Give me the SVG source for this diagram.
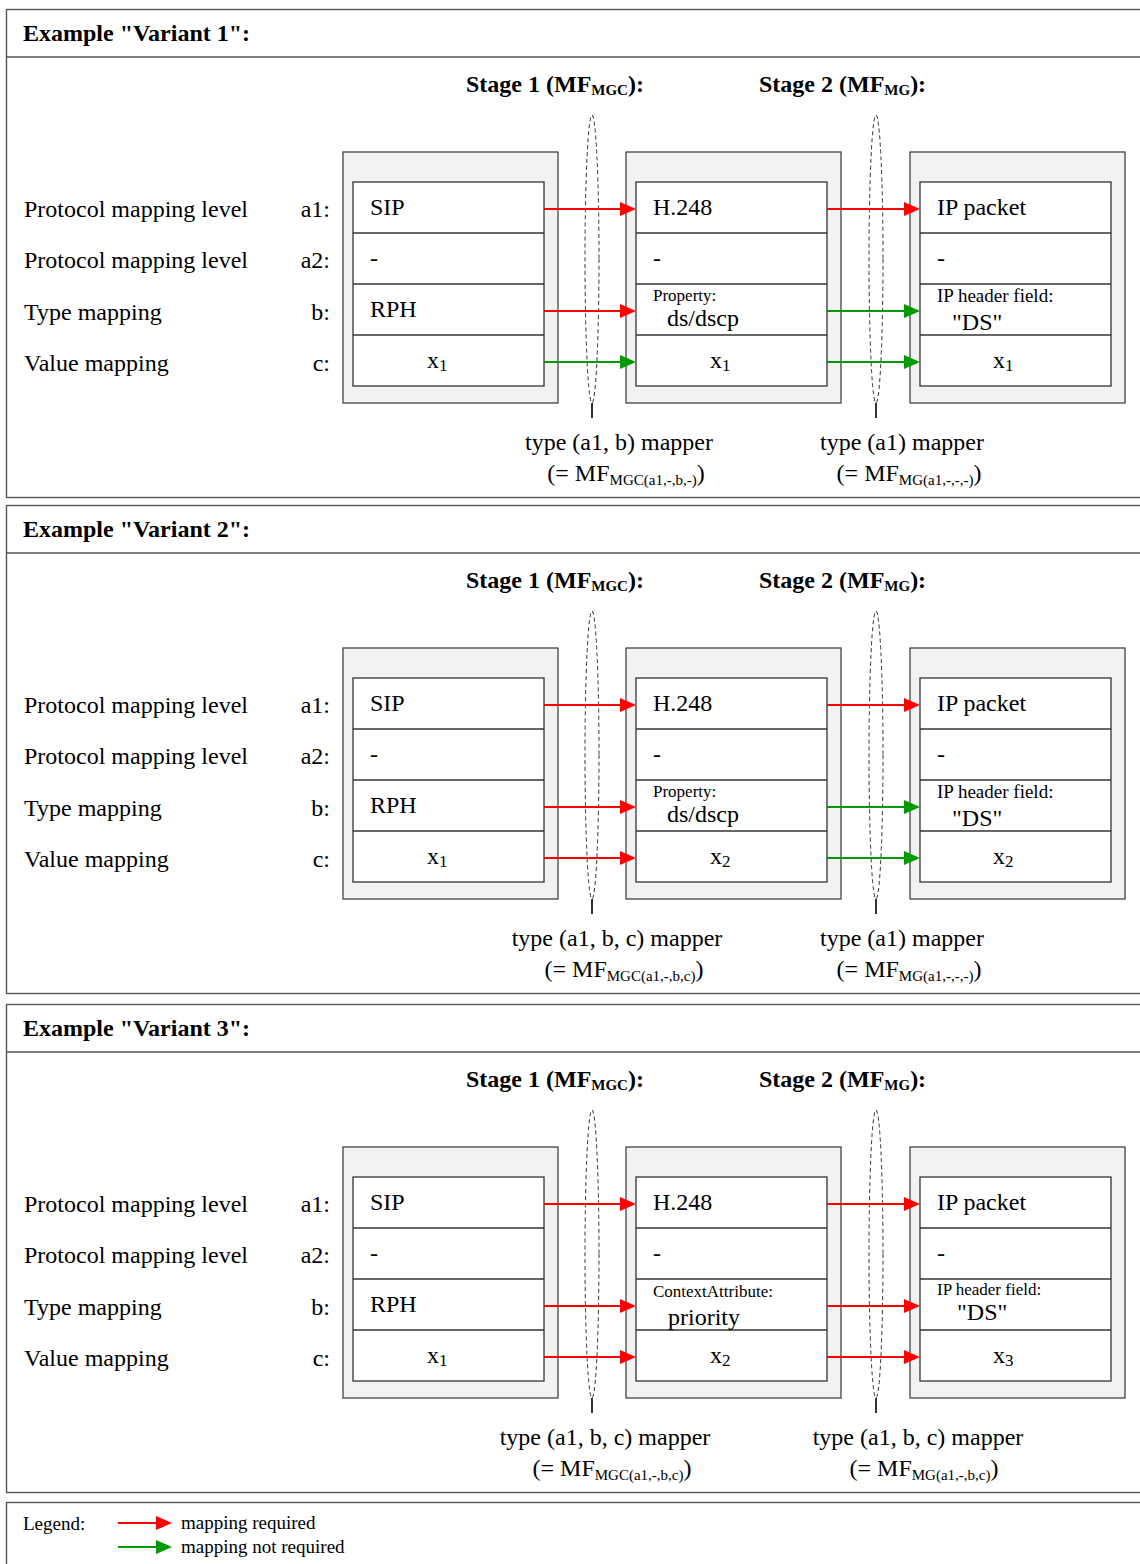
<svg xmlns="http://www.w3.org/2000/svg" width="1140" height="1564" viewBox="0 0 1140 1564">
<style>
.frame{fill:#fff;stroke:#555;stroke-width:1.4}
.div{stroke:#555;stroke-width:1.4}
.outer{fill:#f2f2f2;stroke:#444;stroke-width:1.3}
.inner{fill:#fff;stroke:#333;stroke-width:1.3}
.rl{stroke:#333;stroke-width:1.3}
text{font-family:"Liberation Serif","Times New Roman",serif;font-size:24px;fill:#000}
.b{font-weight:bold}
.sb{font-size:15px}
.sx{font-size:17px}
.sm{font-size:17px}
.ell{fill:none;stroke:#333;stroke-width:1;stroke-dasharray:4 3}
.stem{stroke:#000;stroke-width:1.6}
.red{stroke:#ff0000;stroke-width:2;fill:none;marker-end:url(#ar)}
.grn{stroke:#009900;stroke-width:2;fill:none;marker-end:url(#ag)}
.lg{font-size:19px}
</style>
<defs>
<marker id="ar" markerUnits="userSpaceOnUse" markerWidth="16" markerHeight="14" refX="10" refY="7" orient="auto"><path d="M0,0 L16,7 L0,14 z" fill="#ff0000"/></marker>
<marker id="ag" markerUnits="userSpaceOnUse" markerWidth="16" markerHeight="14" refX="10" refY="7" orient="auto"><path d="M0,0 L16,7 L0,14 z" fill="#009900"/></marker>
<g id="boxframe">
<rect class="outer" x="0" y="0" width="215" height="251"/>
<rect class="inner" x="10" y="30" width="191" height="204"/>
<line class="rl" x1="10" y1="81" x2="201" y2="81"/>
<line class="rl" x1="10" y1="132" x2="201" y2="132"/>
<line class="rl" x1="10" y1="183" x2="201" y2="183"/>
</g>
<g id="rowlabels">
<text x="24" y="217">Protocol mapping level</text>
<text x="330" y="217" text-anchor="end">a1:</text>
<text x="24" y="268">Protocol mapping level</text>
<text x="330" y="268" text-anchor="end">a2:</text>
<text x="24" y="320">Type mapping</text>
<text x="330" y="320" text-anchor="end">b:</text>
<text x="24" y="371">Value mapping</text>
<text x="330" y="371" text-anchor="end">c:</text>
</g>
<g id="stages">
<text class="b" x="466" y="92">Stage 1 (MF<tspan class="sb" dy="3">MGC</tspan><tspan dy="-3">):</tspan></text>
<text class="b" x="759" y="92">Stage 2 (MF<tspan class="sb" dy="3">MG</tspan><tspan dy="-3">):</tspan></text>
</g>
<g id="ellipses">
<ellipse class="ell" cx="592" cy="259" rx="7" ry="144"/>
<line class="stem" x1="592" y1="403" x2="592" y2="418"/>
<ellipse class="ell" cx="876" cy="259" rx="7" ry="144"/>
<line class="stem" x1="876" y1="403" x2="876" y2="418"/>
</g>
</defs>

<!-- Panel 1 -->
<g id="variant1">
<rect class="frame" x="6.5" y="9.5" width="1140" height="488"/>
<line class="div" x1="6.5" y1="57" x2="1146" y2="57"/>
<text class="b" x="23" y="41">Example "Variant 1":</text>
<use href="#stages"/>
<use href="#rowlabels"/>
<g id="v1-sip"><use href="#boxframe" x="343" y="152"/>
<text x="370" y="215">SIP</text><text x="370" y="266">-</text><text x="370" y="317">RPH</text>
<text x="427" y="368">x<tspan class="sx" dy="3">1</tspan></text></g>
<g id="v1-h248"><use href="#boxframe" x="626" y="152"/>
<text x="653" y="215">H.248</text><text x="653" y="266">-</text>
<text class="sm" x="653" y="301">Property:</text><text x="667" y="326">ds/dscp</text>
<text x="710" y="368">x<tspan class="sx" dy="3">1</tspan></text></g>
<g id="v1-ip"><use href="#boxframe" x="910" y="152"/>
<text x="937" y="215">IP packet</text><text x="937" y="266">-</text>
<text x="937" y="302" style="font-size:19px">IP header field:</text><text x="952" y="330">"DS"</text>
<text x="993" y="368">x<tspan class="sx" dy="3">1</tspan></text></g>
<g id="v1-mapper1"><use href="#ellipses"/>
<text x="619" y="450" text-anchor="middle">type (a1, b) mapper</text>
<text x="626" y="481" text-anchor="middle">(= MF<tspan class="sb" dy="4">MGC(a1,-,b,-)</tspan><tspan dy="-4">)</tspan></text></g>
<g id="v1-mapper2">
<text x="902" y="450" text-anchor="middle">type (a1) mapper</text>
<text x="909" y="481" text-anchor="middle">(= MF<tspan class="sb" dy="4">MG(a1,-,-,-)</tspan><tspan dy="-4">)</tspan></text></g>
</g>

<!-- Panel 2 -->
<g id="variant2" transform="translate(0,496)">
<rect class="frame" x="6.5" y="9.5" width="1140" height="488"/>
<line class="div" x1="6.5" y1="57" x2="1146" y2="57"/>
<text class="b" x="23" y="41">Example "Variant 2":</text>
<use href="#stages"/>
<use href="#rowlabels"/>
<g id="v2-sip"><use href="#boxframe" x="343" y="152"/>
<text x="370" y="215">SIP</text><text x="370" y="266">-</text><text x="370" y="317">RPH</text>
<text x="427" y="368">x<tspan class="sx" dy="3">1</tspan></text></g>
<g id="v2-h248"><use href="#boxframe" x="626" y="152"/>
<text x="653" y="215">H.248</text><text x="653" y="266">-</text>
<text class="sm" x="653" y="301">Property:</text><text x="667" y="326">ds/dscp</text>
<text x="710" y="368">x<tspan class="sx" dy="3">2</tspan></text></g>
<g id="v2-ip"><use href="#boxframe" x="910" y="152"/>
<text x="937" y="215">IP packet</text><text x="937" y="266">-</text>
<text x="937" y="302" style="font-size:19px">IP header field:</text><text x="952" y="330">"DS"</text>
<text x="993" y="368">x<tspan class="sx" dy="3">2</tspan></text></g>
<g id="v2-mapper1"><use href="#ellipses"/>
<text x="617" y="450" text-anchor="middle">type (a1, b, c) mapper</text>
<text x="624" y="481" text-anchor="middle">(= MF<tspan class="sb" dy="4">MGC(a1,-,b,c)</tspan><tspan dy="-4">)</tspan></text></g>
<g id="v2-mapper2">
<text x="902" y="450" text-anchor="middle">type (a1) mapper</text>
<text x="909" y="481" text-anchor="middle">(= MF<tspan class="sb" dy="4">MG(a1,-,-,-)</tspan><tspan dy="-4">)</tspan></text></g>
</g>

<!-- Panel 3 -->
<g id="variant3" transform="translate(0,995)">
<rect class="frame" x="6.5" y="9.5" width="1140" height="488"/>
<line class="div" x1="6.5" y1="57" x2="1146" y2="57"/>
<text class="b" x="23" y="41">Example "Variant 3":</text>
<use href="#stages"/>
<use href="#rowlabels"/>
<g id="v3-sip"><use href="#boxframe" x="343" y="152"/>
<text x="370" y="215">SIP</text><text x="370" y="266">-</text><text x="370" y="317">RPH</text>
<text x="427" y="368">x<tspan class="sx" dy="3">1</tspan></text></g>
<g id="v3-h248"><use href="#boxframe" x="626" y="152"/>
<text x="653" y="215">H.248</text><text x="653" y="266">-</text>
<text class="sm" x="653" y="302">ContextAttribute:</text><text x="668" y="330">priority</text>
<text x="710" y="368">x<tspan class="sx" dy="3">2</tspan></text></g>
<g id="v3-ip"><use href="#boxframe" x="910" y="152"/>
<text x="937" y="215">IP packet</text><text x="937" y="266">-</text>
<text class="sm" x="937" y="300">IP header field:</text><text x="957" y="325">"DS"</text>
<text x="993" y="368">x<tspan class="sx" dy="3">3</tspan></text></g>
<g id="v3-mapper1"><use href="#ellipses"/>
<text x="605" y="450" text-anchor="middle">type (a1, b, c) mapper</text>
<text x="612" y="481" text-anchor="middle">(= MF<tspan class="sb" dy="4">MGC(a1,-,b,c)</tspan><tspan dy="-4">)</tspan></text></g>
<g id="v3-mapper2">
<text x="918" y="450" text-anchor="middle">type (a1, b, c) mapper</text>
<text x="924" y="481" text-anchor="middle">(= MF<tspan class="sb" dy="4">MG(a1,-,b,c)</tspan><tspan dy="-4">)</tspan></text></g>
</g>

<!-- Legend -->
<g id="legend">
<rect class="frame" x="6.5" y="1502.5" width="1140" height="80"/>
<text class="lg" x="23" y="1530">Legend:</text>
<line class="red" x1="118" y1="1523" x2="166" y2="1523"/>
<text class="lg" x="181" y="1529">mapping required</text>
<line class="grn" x1="118" y1="1547" x2="166" y2="1547"/>
<text class="lg" x="181" y="1553">mapping not required</text>
</g>

<!-- Connectors -->
<g id="connectors">
<g id="conn-v1">
<line class="red" x1="544" y1="209" x2="630" y2="209"/>
<line class="red" x1="544" y1="311" x2="630" y2="311"/>
<line class="grn" x1="544" y1="362" x2="630" y2="362"/>
<line class="red" x1="827" y1="209" x2="914" y2="209"/>
<line class="grn" x1="827" y1="311" x2="914" y2="311"/>
<line class="grn" x1="827" y1="362" x2="914" y2="362"/>
</g>
<g id="conn-v2" transform="translate(0,496)">
<line class="red" x1="544" y1="209" x2="630" y2="209"/>
<line class="red" x1="544" y1="311" x2="630" y2="311"/>
<line class="red" x1="544" y1="362" x2="630" y2="362"/>
<line class="red" x1="827" y1="209" x2="914" y2="209"/>
<line class="grn" x1="827" y1="311" x2="914" y2="311"/>
<line class="grn" x1="827" y1="362" x2="914" y2="362"/>
</g>
<g id="conn-v3" transform="translate(0,995)">
<line class="red" x1="544" y1="209" x2="630" y2="209"/>
<line class="red" x1="544" y1="311" x2="630" y2="311"/>
<line class="red" x1="544" y1="362" x2="630" y2="362"/>
<line class="red" x1="827" y1="209" x2="914" y2="209"/>
<line class="red" x1="827" y1="311" x2="914" y2="311"/>
<line class="red" x1="827" y1="362" x2="914" y2="362"/>
</g>
</g>
</svg>
